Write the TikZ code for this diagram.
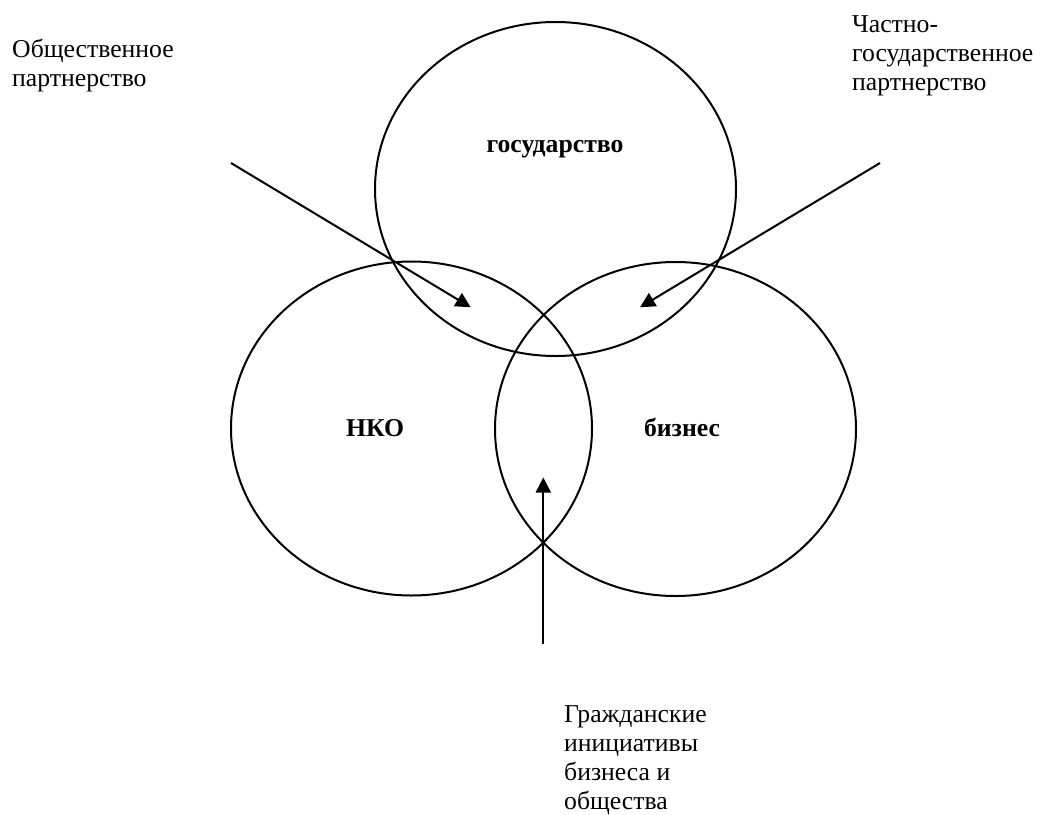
\documentclass[tikz,border=0pt]{standalone}
\usepackage{fontspec}
\setmainfont{Liberation Serif}
\usetikzlibrary{arrows.meta,shapes.geometric}
\begin{document}
\begin{tikzpicture}[x=1pt,y=-1pt,
  circ/.style={draw, line width=2pt, ellipse, inner sep=0pt, minimum width=361pt, minimum height=334pt},
  lbl/.style={font=\fontsize{25.7}{29.3}\selectfont\bfseries, anchor=base, inner sep=0pt},
  txt/.style={font=\fontsize{25.7}{29.3}\selectfont, anchor=base west, inner sep=0pt},
  arr/.style={line width=2pt, -{Triangle[length=15pt,width=15pt]}}]
\useasboundingbox (0,0) rectangle (1043,814);
% circles
\node[circ] (gos) at (555.5,189) {};
\node[circ] (nko) at (411.5,428.5) {};
\node[circ] (biz) at (675.5,429) {};
% circle labels
\node[lbl] (gosl) at (555,152) {государство};
\node[lbl] (nkol) at (375,436) {НКО};
\node[lbl] (bizl) at (682,436) {бизнес};
% texts
\node[txt] (t1) at (12,57) {\vtop{\hbox{Общественное}\hbox{партнерство}}};
\node[txt] (t2) at (852,32) {\vtop{\hbox{Частно-}\hbox{государственное}\hbox{партнерство}}};
\node[txt] (t3) at (564,722) {\vtop{\hbox{Гражданские}\hbox{инициативы}\hbox{бизнеса и}\hbox{общества}}};
% arrow coordinates
\coordinate (a1s) at (231,163);
\coordinate (a1e) at (470.7,307.3);
\coordinate (a2s) at (880,163);
\coordinate (a2e) at (640,307.3);
\coordinate (a3s) at (543.3,644);
\coordinate (a3e) at (543.3,477.5);
\draw[arr] (a1s) -- (a1e);
\draw[arr] (a2s) -- (a2e);
\draw[arr] (a3s) -- (a3e);
\end{tikzpicture}
\end{document}
